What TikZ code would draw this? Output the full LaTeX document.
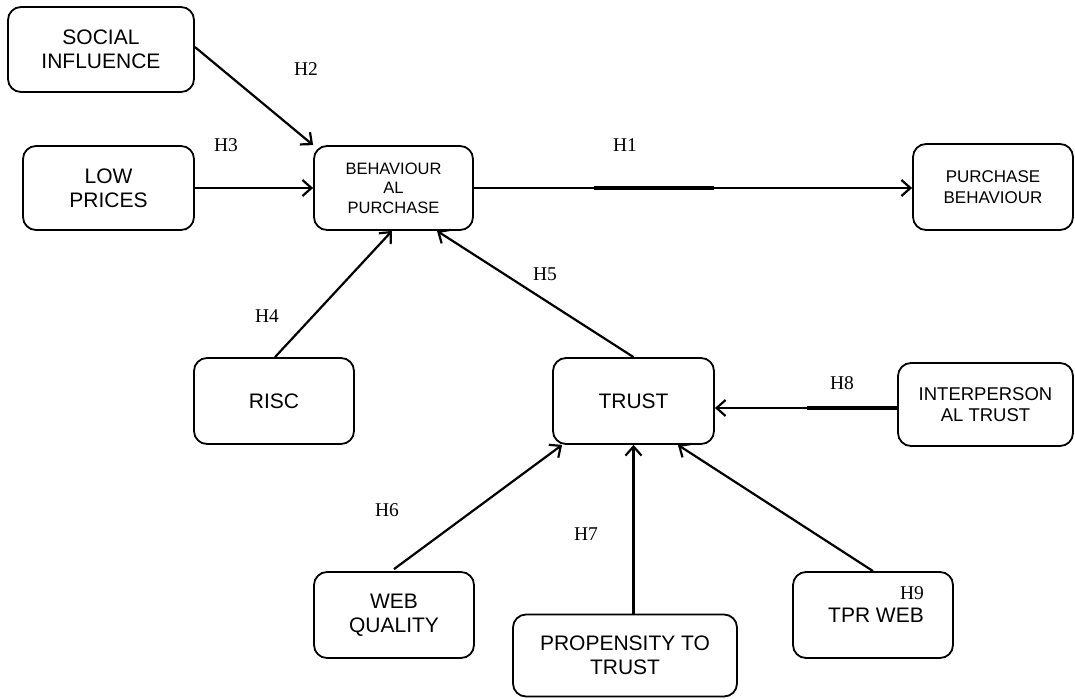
\documentclass[tikz,border=0pt]{standalone}
\usepackage{fontspec}
\newfontfamily\boxfont{Liberation Sans}
\newfontfamily\hfont{Liberation Serif}
\usetikzlibrary{arrows.meta,calc}
\begin{document}
\begin{tikzpicture}[x=1pt,y=-1pt,
  box/.style={draw, line width=1.8pt, rounded corners=13pt, inner sep=0pt, align=center,
    font=\boxfont\fontsize{21}{24}\selectfont},
  arr/.style={line width=2.2pt, -{Straight Barb[length=9pt,width=16pt]}},
  hlab/.style={font=\hfont\fontsize{19.5}{22}\selectfont, inner sep=0pt},
  hseg/.style={line width=4.4pt}]
\useasboundingbox (0,0) rectangle (1075,698);

% boxes
\node[box, minimum width=186pt, minimum height=85pt] (si) at (101,49.5) {SOCIAL\\INFLUENCE};
\node[box, minimum width=171pt, minimum height=84pt] (lp) at (108.5,188) {LOW\\PRICES};
\node[box, minimum width=159pt, minimum height=84pt, font=\boxfont\fontsize{16.5}{19.5}\selectfont] (bp) at (393.5,188) {BEHAVIOUR\\AL\\PURCHASE};
\node[box, minimum width=160pt, minimum height=86pt, font=\boxfont\fontsize{17}{20.5}\selectfont] (pb) at (993,187) {PURCHASE\\BEHAVIOUR};
\node[box, minimum width=160pt, minimum height=86pt] (risc) at (274,401) {RISC};
\node[box, minimum width=161pt, minimum height=86pt] (trust) at (633.5,401) {TRUST};
\node[box, minimum width=175pt, minimum height=83pt, font=\boxfont\fontsize{18.5}{21}\selectfont] (it) at (985.5,404.5) {INTERPERSON\\AL TRUST};
\node[box, minimum width=160pt, minimum height=86pt] (wq) at (394,615) {WEB\\QUALITY};
\node[box, minimum width=224pt, minimum height=82pt] (pt) at (625,655.5) {PROPENSITY TO\\TRUST};
\node[box, minimum width=160pt, minimum height=86pt] (tpr) at (873,615) {\hspace*{6pt}TPR WEB};

% connectors
\draw[arr] ($(si.east)+(0,-2.5)$) -- (bp.north west);
\draw[arr] (lp.east) -- (bp.west);
\draw[arr] (bp.east) -- (pb.west |- bp.east);
\draw[hseg] ($(bp.east)!0.273!(pb.west |- bp.east)$) -- ($(bp.east)!0.548!(pb.west |- bp.east)$);
\draw[arr] ($(risc.north)+(1,0)$) -- ($(bp.south)+(-1.5,0)$);
\draw[arr] (trust.north) -- ($(bp.south)+(43.5,0)$);
\draw[arr] ($(it.west)+(0,3.5)$) -- ($(trust.east)+(0,7)$);
\draw[hseg] ($(it.west)+(0,3.5)$) -- ($(it.west)+(-90,3.5)$);
\draw[arr] ($(wq.north)+(0,-2)$) -- ($(trust.south west)+(10,0)$);
\draw[arr] (trust.south |- pt.north) -- (trust.south);
\draw[arr] (tpr.north) -- ($(trust.south east)+(-37,0)$);

% hypothesis labels
\node[hlab] (h1) at (625,145) {H1};
\node[hlab] (h2) at (306,69) {H2};
\node[hlab] (h3) at (226,145) {H3};
\node[hlab] (h4) at (267,316) {H4};
\node[hlab] (h5) at (545,274) {H5};
\node[hlab] (h6) at (387,510) {H6};
\node[hlab] (h7) at (586,534) {H7};
\node[hlab] (h8) at (842,383) {H8};
\node[hlab] (h9) at (912,593) {H9};
\end{tikzpicture}
\end{document}
